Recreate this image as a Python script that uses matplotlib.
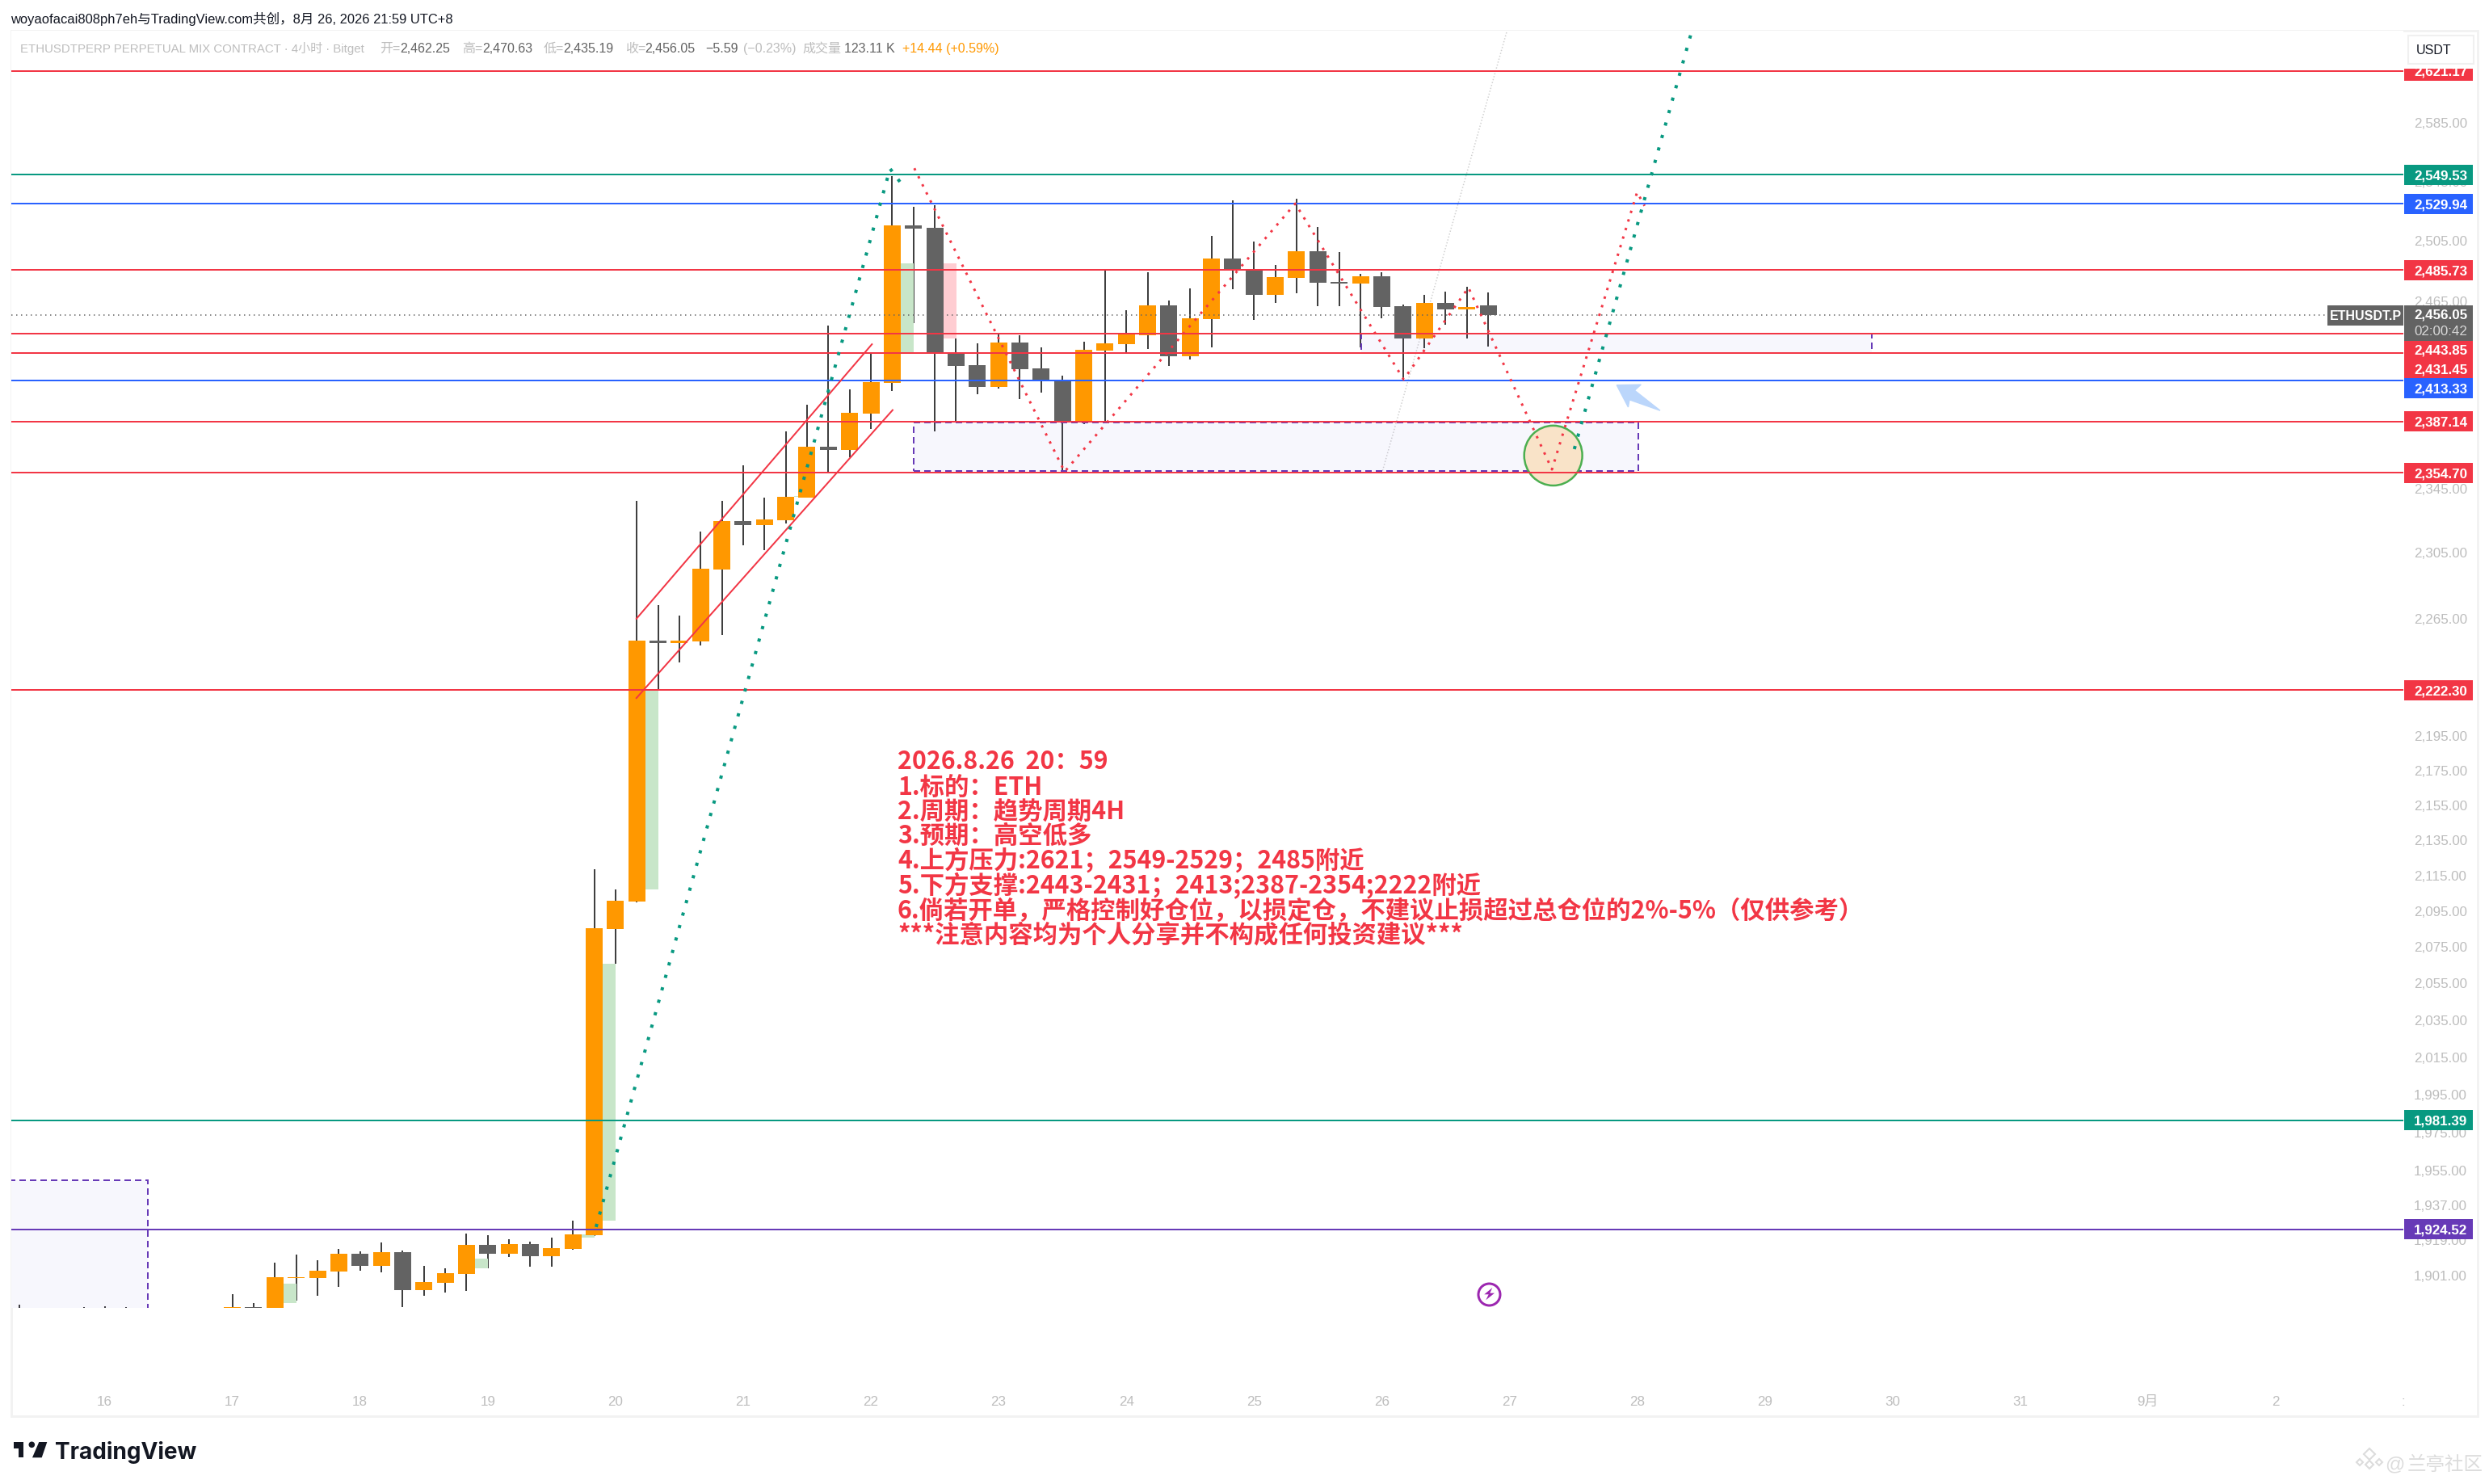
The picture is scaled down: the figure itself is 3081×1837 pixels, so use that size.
import matplotlib
matplotlib.use("Agg")
import matplotlib.pyplot as plt
from matplotlib.patches import Rectangle, Polygon, Ellipse
from matplotlib.ticker import NullLocator, NullFormatter
import numpy as np

plt.rcParams['font.family'] = ['Liberation Sans', 'Noto Sans CJK SC', 'DejaVu Sans']

# ---------------------------------------------------------------------
#  DATA (prices in USDT, x in day of month)
# ---------------------------------------------------------------------
candle_open = [1884.7, 1885.1, 1875.0, 1899.7, 1899.7, 1903.0, 1912.1, 1905.9, 1912.9, 1893.6,
               1897.3, 1901.8, 1916.6, 1912.1, 1917.0, 1910.8, 1914.5, 1921.6, 2085.1, 2100.4,
               2251.8, 2250.3, 2251.3, 2294.8, 2324.7, 2322.2, 2325.2, 2339.3, 2371.3, 2369.2,
               2392.2, 2411.8, 2515.3, 2513.7, 2431.2, 2423.4, 2409.4, 2438.0, 2421.3, 2412.9,
               2387.1, 2432.9, 2437.0, 2442.7, 2462.3, 2429.1, 2453.3, 2493.3, 2485.8, 2469.3,
               2480.4, 2498.0, 2477.7, 2476.7, 2481.5, 2461.8, 2440.6, 2463.9, 2459.7, 2462.25]
candle_high = [1891.6, 1887.1, 1907.5, 1911.7, 1908.8, 1914.5, 1913.3, 1917.9, 1913.7, 1905.9,
               1904.7, 1922.4, 1921.6, 1919.5, 1918.3, 1920.3, 1929.1, 2118.6, 2107.2, 2337.2,
               2273.2, 2266.8, 2318.2, 2337.2, 2359.5, 2339.3, 2381.0, 2398.0, 2449.1, 2407.8,
               2431.2, 2548.7, 2528.0, 2529.0, 2440.6, 2437.5, 2443.2, 2442.7, 2435.0, 2416.6,
               2438.5, 2485.2, 2459.2, 2484.1, 2465.6, 2473.5, 2508.3, 2532.3, 2504.5, 2489.0,
               2533.4, 2514.3, 2497.5, 2483.0, 2484.1, 2462.8, 2469.3, 2471.4, 2474.6, 2470.63]
candle_low = [1880.0, 1880.0, 1870.0, 1888.3, 1890.8, 1895.3, 1903.4, 1902.6, 1885.1, 1890.8,
              1892.4, 1893.2, 1904.7, 1910.4, 1905.5, 1905.5, 1914.1, 1921.0, 2065.9, 2100.0,
              2222.5, 2238.7, 2248.9, 2255.2, 2309.7, 2306.7, 2323.2, 2339.0, 2355.0, 2364.6,
              2382.6, 2406.8, 2450.7, 2381.0, 2387.0, 2404.7, 2408.3, 2401.6, 2405.7, 2354.9,
              2385.6, 2387.1, 2431.7, 2433.8, 2422.8, 2427.0, 2434.8, 2473.0, 2452.8, 2463.9,
              2470.3, 2461.8, 2461.8, 2434.8, 2453.9, 2413.7, 2434.3, 2449.6, 2440.6, 2435.19]
candle_close = [1885.1, 1884.0, 1900.1, 1900.2, 1903.4, 1912.1, 1905.9, 1912.9, 1893.6, 1897.7,
                1902.2, 1916.6, 1912.1, 1917.0, 1910.8, 1914.9, 1922.0, 2085.6, 2100.9, 2251.8,
                2250.3, 2251.8, 2295.3, 2324.7, 2322.2, 2325.7, 2339.8, 2371.3, 2369.2, 2392.7,
                2412.3, 2515.3, 2513.2, 2431.7, 2422.8, 2409.4, 2438.0, 2420.7, 2412.9, 2387.1,
                2433.4, 2437.5, 2443.3, 2462.3, 2429.1, 2453.9, 2493.3, 2486.4, 2469.3, 2481.0,
                2498.0, 2477.2, 2476.7, 2481.5, 2461.2, 2440.6, 2463.9, 2459.7, 2461.2, 2456.05]

# wick tips of the candles left of the 17th, mostly cut off by the pane
early_days = [15.335, 15.836, 16.0, 16.17]
early_high = [1886.2, 1885.1, 1885.5, 1885.1]

# pale bars next to some candles: day of candle, low, high
ghost_green_day = [17.333, 18.833, 19.667, 19.833, 20.167, 21.333, 22.167]
ghost_green_low = [1887.1, 1904.7, 1920.3, 1929.1, 2107.2, 2339.8, 2431.7]
ghost_green_high = [1896.9, 1909.6, 1922.0, 2065.9, 2222.5, 2340.2, 2490.0]
ghost_red_day = [22.5]
ghost_red_low = [2440.6]
ghost_red_high = [2490.0]

level_prices = [2621.17, 2549.53, 2529.94, 2485.73, 2443.85, 2431.45, 2413.33, 2387.14, 2354.70,
                2222.30, 1981.39, 1924.52]
level_colors = ['#F23645', '#089981', '#2962FF', '#F23645', '#F23645', '#F23645', '#2962FF',
                '#F23645', '#F23645', '#F23645', '#089981', '#673AB7']
# how far a price label is pushed down from its line when labels collide
level_label_shift = [0, 0, 0, 0, 20, 20, 9, 0, 0, 0, 0, 0]

last_price = 2456.05

price_ticks = [2585, 2545, 2505, 2465, 2345, 2305, 2265, 2195, 2175, 2155, 2135, 2115, 2095, 2075,
               2055, 2035, 2015, 1995, 1975, 1955, 1937, 1919, 1901]
date_ticks = [16, 17, 18, 19, 20, 21, 22, 23, 24, 25, 26, 27, 28, 29, 30, 31, 32, 33, 34]
date_labels = ['16', '17', '18', '19', '20', '21', '22', '23', '24', '25', '26', '27', '28', '29',
               '30', '31', '9月', '2', ':']

green_path_1_day = [19.848, 22.15, 22.26]
green_path_1_price = [1925.8, 2553.7, 2541.0]
green_path_2_day = [27.508, 28.42]
green_path_2_price = [2369.7, 2646.6]
red_path_day = [22.34, 23.517, 25.323, 26.172, 26.679, 27.333, 28.0, 28.058]
red_path_price = [2554.0, 2355.5, 2530.0, 2414.1, 2474.0, 2356.9, 2537.7, 2528.5]
gray_path_day = [26.0, 26.98]
gray_path_price = [2354.2, 2649.0]
channel_upper_day = [20.164, 22.008]
channel_upper_price = [2264.9, 2436.9]
channel_lower_day = [20.164, 22.17]
channel_lower_price = [2217.5, 2394.5]

# zones: left day, right day, low, high
zones = [(22.335, 28.01, 2355.9, 2386.6),
         (25.84, 29.84, 2431.2, 2443.7),
         (15.0, 16.336, 1880.0, 1950.0)]

arrow_day = [27.84, 28.03, 27.98, 28.18, 27.94, 27.93]
arrow_price = [2410.5, 2410.8, 2407.1, 2394.2, 2401.1, 2396.4]

note_lines = ['2026.8.26  20：59',
              '1.标的：ETH',
              '2.周期：趋势周期4H',
              '3.预期：高空低多',
              '4.上方压力:2621；2549-2529；2485附近',
              '5.下方支撑:2443-2431；2413;2387-2354;2222附近',
              '6.倘若开单，严格控制好仓位，以损定仓，不建议止损超过总仓位的2%-5%（仅供参考）',
              '***注意内容均为个人分享并不构成任何投资建议***']

# ---------------------------------------------------------------------
#  STYLE
# ---------------------------------------------------------------------
W, H = 3081, 1837
UP = '#FF9800'
DOWN = '#636363'
RED = '#F23645'
TEAL = '#089981'
PURPLE = '#673AB7'
LABEL_GRAY = '#bdbdbd'
px_font = 72 / 100  # pixels to points at dpi 100


def fx(x):
    return x / W


def fy(y):
    return 1 - y / H


fig = plt.figure(figsize=(W / 100, H / 100), dpi=100, facecolor='white')
ax = fig.add_axes([fx(14), fy(1619), (2975 - 14) / W, (1619 - 38) / H])
ax.set_yscale('log')
ax.set_xlim(15.269, 33.998)
ax.set_ylim(1884.7, 2649.4)
for s in ax.spines.values():
    s.set_visible(False)

# ---------------------------------------------------------------------
#  CANDLES
# ---------------------------------------------------------------------
days = 17 + np.arange(len(candle_open)) / 6
o = np.array(candle_open)
c = np.array(candle_close)
colors = [UP if b >= a else DOWN for a, b in zip(o, c)]
body_w = 21 / 158.1
ghost_w = 16 / 158.1

ax.vlines(days, candle_low, candle_high, color='black', lw=1.5 * px_font, zorder=2)
ax.vlines(early_days, 1880, early_high, color='black', lw=1.5 * px_font, zorder=2)
ax.bar(days, np.abs(c - o), bottom=np.minimum(o, c), width=body_w, color=colors, zorder=3)
for d, lo, hi in zip(ghost_green_day, ghost_green_low, ghost_green_high):
    ax.bar(d + body_w / 2, hi - lo, bottom=lo, width=ghost_w, align='edge', color='#C8E6C9', zorder=2.5)
for d, lo, hi in zip(ghost_red_day, ghost_red_low, ghost_red_high):
    ax.bar(d + body_w / 2, hi - lo, bottom=lo, width=ghost_w, align='edge', color='#FFCDD2', zorder=2.5)

# ---------------------------------------------------------------------
#  DRAWINGS
# ---------------------------------------------------------------------
for left, right, lo, hi in zones:
    ax.add_patch(Rectangle((left, lo), right - left, hi - lo, facecolor=(0.35, 0.3, 0.85, 0.045),
                           edgecolor=PURPLE, lw=2 * px_font, linestyle=(0, (4, 2.5)), zorder=4))

ax.add_patch(Ellipse((27.343, 2365.7), 0.455, 37.8, facecolor='#F9E3C8', edgecolor='#4CAF50',
                     lw=2.5 * px_font, zorder=4.2))

for price, col in zip(level_prices, level_colors):
    ax.axhline(price, color=col, lw=2 * px_font, zorder=5)
ax.axhline(last_price, xmax=0.97, color=DOWN, lw=1.5 * px_font, linestyle=(0, (1, 3)), zorder=5)

ax.plot(gray_path_day, gray_path_price, color='#d0d0d0', lw=1.5 * px_font, linestyle=(0, (1, 1.5)), zorder=2)
ax.plot(channel_upper_day, channel_upper_price, color=RED, lw=2 * px_font, zorder=5)
ax.plot(channel_lower_day, channel_lower_price, color=RED, lw=2 * px_font, zorder=5)
ax.plot(green_path_1_day, green_path_1_price, color=TEAL, lw=4 * px_font, linestyle=(0, (1, 3)), zorder=6)
ax.plot(green_path_2_day, green_path_2_price, color=TEAL, lw=4 * px_font, linestyle=(0, (1, 3)), zorder=6)
ax.plot(red_path_day, red_path_price, color=RED, lw=3 * px_font, linestyle=(0, (1, 2.7)), zorder=6)

ax.add_patch(Polygon(np.column_stack([arrow_day, arrow_price]), closed=True, facecolor='#BBD6FB',
                     edgecolor='#BBD6FB', lw=1, zorder=6))

# lightning badge
ax.plot([26.837], [1891.7], marker='o', ms=27 * px_font, mfc='white', mec='#9C27B0', mew=3 * px_font, zorder=6)
bolt = [(1847.3, 1594), (1837.3, 1602.3), (1842.7, 1602.3), (1839.3, 1609.3), (1850, 1600.7), (1844.3, 1600.7)]
fig.add_artist(Polygon([(fx(a), fy(b)) for a, b in bolt], closed=True, transform=fig.transFigure,
                       facecolor='#9C27B0', edgecolor='none', zorder=7))

# ---------------------------------------------------------------------
#  AXES
# ---------------------------------------------------------------------
ax.yaxis.tick_right()
ax.yaxis.set_minor_locator(NullLocator())
ax.yaxis.set_minor_formatter(NullFormatter())
ax.set_yticks(price_ticks)
ax.set_yticklabels([f'{p:,.2f}' for p in price_ticks])
ax.tick_params(axis='y', length=0, pad=13 * px_font, labelsize=17 * px_font, labelcolor=LABEL_GRAY)
ax.set_xticks(date_ticks)
ax.set_xticklabels(date_labels)
ax.tick_params(axis='x', length=0, pad=109 * px_font, labelsize=17 * px_font, labelcolor=LABEL_GRAY)

# outer frame of the chart
fig.add_artist(Rectangle((fx(14), fy(1753)), (3067 - 14) / W, (1753 - 38) / H, transform=fig.transFigure,
                         fill=False, edgecolor='#F2F2F2', lw=3 * px_font, zorder=-1))


def price_badge(center_y, text, color, height=25):
    fig.add_artist(Rectangle((fx(2976), fy(center_y + height / 2)), 85 / W, height / H,
                             transform=fig.transFigure, facecolor=color, edgecolor='none', zorder=10))
    fig.text(fx(2988), fy(center_y), text, color='white', fontsize=17 * px_font, fontweight='bold',
             ha='left', va='center_baseline', zorder=11)


for price, col, shift in zip(level_prices, level_colors, level_label_shift):
    y_disp = ax.transData.transform((20, price))[1]
    price_badge(H - y_disp + shift, f'{price:,.2f}', col)

# last price tag with countdown
last_y = H - ax.transData.transform((20, last_price))[1]
fig.add_artist(Rectangle((fx(2976), fy(422)), 85 / W, 44 / H, transform=fig.transFigure,
                         facecolor=DOWN, edgecolor='none', zorder=10))
fig.text(fx(2988), fy(last_y - 1), f'{last_price:,.2f}', color='white', fontsize=17 * px_font,
         fontweight='bold', ha='left', va='center_baseline', zorder=11)
fig.text(fx(2988), fy(409), '02:00:42', color='#d8d8d8', fontsize=17 * px_font, ha='left',
         va='center_baseline', zorder=11)
fig.add_artist(Rectangle((fx(2881), fy(403)), 94 / W, 25 / H, transform=fig.transFigure,
                         facecolor=DOWN, edgecolor='none', zorder=10))
fig.text(fx(2928), fy(last_y), 'ETHUSDT.P', color='white', fontsize=16 * px_font, fontweight='bold',
         ha='center', va='center_baseline', zorder=11)

# USDT button sits over the top half of the first label
fig.add_artist(Rectangle((fx(2976), fy(84.5)), 90 / W, 44 / H, transform=fig.transFigure,
                         facecolor='white', edgecolor='none', zorder=12))
fig.add_artist(Rectangle((fx(2981), fy(79)), 81 / W, 35 / H, transform=fig.transFigure,
                         facecolor='white', edgecolor='#F0F0F0', lw=1.5, zorder=12))
fig.text(fx(3013), fy(61), 'USDT', color='#131722', fontsize=16 * px_font, ha='center',
         va='center_baseline', zorder=13)

# ---------------------------------------------------------------------
#  HEADER AND LEGEND TEXT
# ---------------------------------------------------------------------
fig.text(fx(13), fy(22), 'woyaofacai808ph7eh与TradingView.com共创，8月 26, 2026 21:59 UTC+8',
         color='#131722', fontsize=16.5 * px_font, ha='left', va='center_baseline')

legend_x = [25, 470, 495, 572, 597, 673, 697, 775, 798, 873, 920, 993, 1045, 1117]
legend_text = ['ETHUSDTPERP PERPETUAL MIX CONTRACT · 4小时 · Bitget', '开=', '2,462.25', '高=', '2,470.63',
               '低=', '2,435.19', '收=', '2,456.05', '−5.59', '(−0.23%)', '成交量', '123.11 K',
               '+14.44 (+0.59%)']
legend_colors = [LABEL_GRAY, LABEL_GRAY, DOWN, LABEL_GRAY, DOWN, LABEL_GRAY, DOWN, LABEL_GRAY, DOWN,
                 DOWN, LABEL_GRAY, LABEL_GRAY, DOWN, UP]
legend_size = [15] + [16] * 13
for x, t, col, size in zip(legend_x, legend_text, legend_colors, legend_size):
    fig.text(fx(x), fy(59), t, color=col, fontsize=size * px_font, ha='left', va='center_baseline')

# red trade note, tight line spacing
note_y = [939, 971, 1001, 1031.5, 1062.5, 1093, 1124.5, 1155]
for y, line in zip(note_y, note_lines):
    fig.text(fx(1111), fy(y), line, color=RED, fontsize=30.4 * px_font, fontweight='bold',
             family=['Noto Sans CJK SC', 'DejaVu Sans'], ha='left', va='center_baseline', zorder=8)

# ---------------------------------------------------------------------
#  LOGO AND WATERMARK
# ---------------------------------------------------------------------
logo = '#131722'
for pts in ([(16.7, 1785), (29.3, 1785), (29.3, 1804.3), (22.7, 1804.3), (22.7, 1792.7), (16.7, 1792.7)],
            [(48.3, 1785), (58.3, 1785), (51.7, 1804.3), (40, 1804.3)]):
    fig.add_artist(Polygon([(fx(a), fy(b)) for a, b in pts], closed=True, transform=fig.transFigure,
                           facecolor=logo, edgecolor='none'))
fig.add_artist(Ellipse((fx(39.3), fy(1788.3)), 7.6 / W, 7.6 / H, transform=fig.transFigure,
                       facecolor=logo, edgecolor='none'))
fig.text(fx(68), fy(1795), 'TradingView', color=logo, fontsize=28 * px_font, fontweight='bold',
         family='Inter', ha='left', va='center_baseline')

mark = '#dcdcdc'
for cx, cy, r in [(2933, 1800, 7), (2921, 1810, 4), (2945, 1810, 4), (2933, 1813, 5)]:
    fig.add_artist(Polygon([(fx(cx), fy(cy - r)), (fx(cx + r), fy(cy)), (fx(cx), fy(cy + r)), (fx(cx - r), fy(cy))],
                           closed=True, transform=fig.transFigure, fill=False, edgecolor=mark, lw=1.5))
fig.text(fx(2952), fy(1811), '@', color=mark, fontsize=24 * px_font, ha='left', va='center_baseline')
fig.text(fx(2980), fy(1811), '兰亭社区', color=mark, fontsize=23.5 * px_font,
         family=['Noto Sans CJK SC', 'DejaVu Sans'], ha='left', va='center_baseline')

fig.savefig('out.png', dpi=100, facecolor='white')
